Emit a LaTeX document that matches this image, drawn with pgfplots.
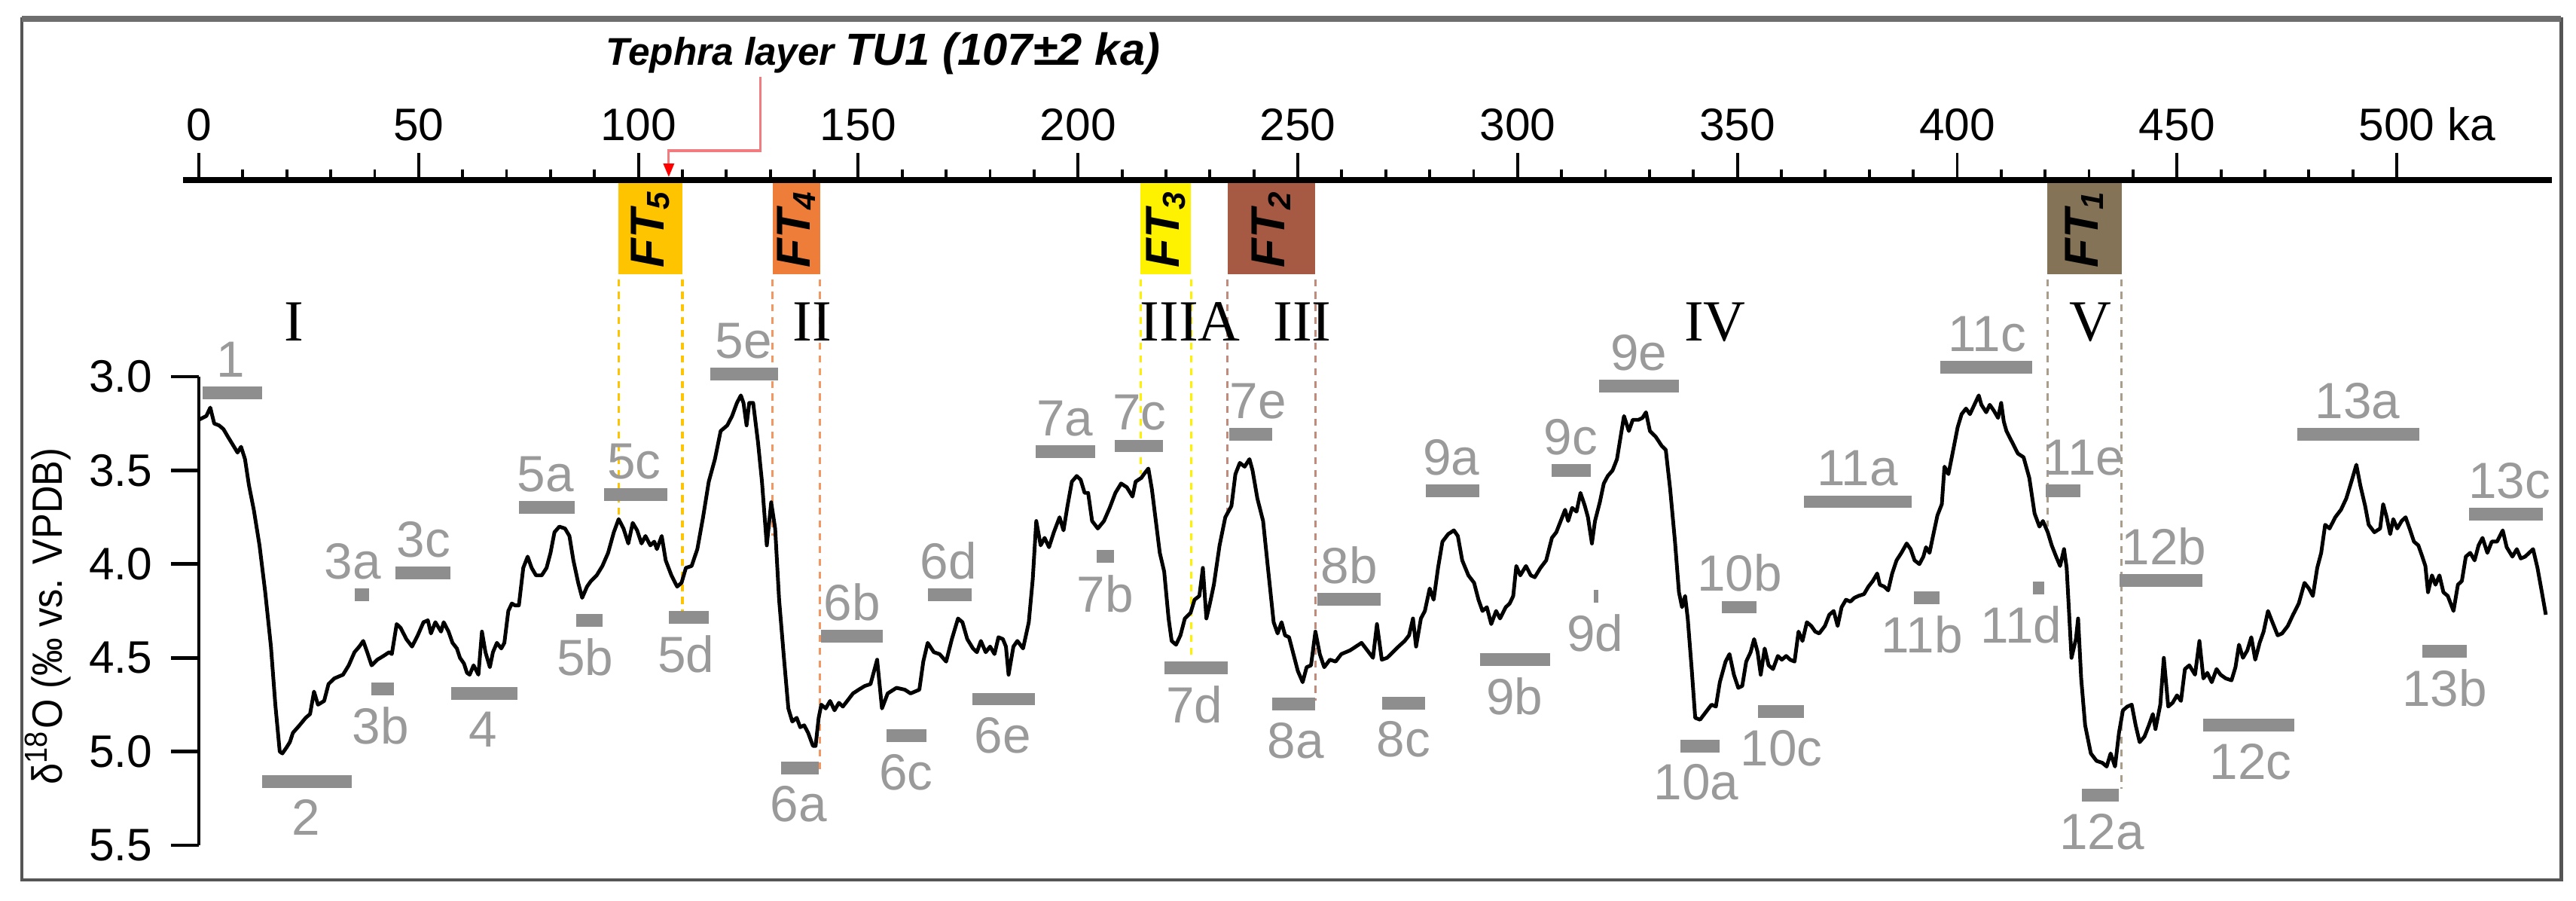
\documentclass[border=0pt]{standalone}
\usepackage{graphicx}
\usepackage{pgfplots}
\pgfplotsset{compat=1.18}
\usepackage{fontspec}
\setmainfont{Liberation Sans}
\newfontfamily\romanfont{Liberation Serif}
\usetikzlibrary{arrows.meta}
\definecolor{frame}{HTML}{555555}
\definecolor{misgray}{HTML}{8E8E8E}
\definecolor{mistext}{HTML}{9A9A9A}
\definecolor{ftfive}{HTML}{FFC400}
\definecolor{ftfour}{HTML}{EF7D3A}
\definecolor{ftthree}{HTML}{FFF200}
\definecolor{fttwo}{HTML}{A65A43}
\definecolor{ftone}{HTML}{857358}
\definecolor{tephra}{HTML}{F07C80}

\tikzset{
  misup/.style={anchor=south, inner sep=0pt, yshift=0.095cm, text=mistext, font=\fontsize{9.6}{10}\selectfont},
  misdown/.style={anchor=north, inner sep=0pt, yshift=-0.115cm, text=mistext, font=\fontsize{9.6}{10}\selectfont},
  roman/.style={anchor=base, inner sep=0pt, font=\romanfont\fontsize{11}{12}\selectfont},
  ftlab/.style={inner sep=0pt, font=\bfseries\itshape\fontsize{9}{10}\selectfont},
  ftdash/.style={dash pattern=on 1.3pt off 1.1pt, line width=0.45pt},
}
\newcommand{\ft}[1]{\rotatebox{90}{FT\textsubscript{#1}}}

\begin{document}
\begin{tikzpicture}
\path (-1.32,-0.365) rectangle (15.78,5.61);

% age scale on top
\begin{axis}[
  at={(-0.105cm,4.415cm)}, anchor=north west,
  width=15.725cm, height=0.5cm, scale only axis,
  xmin=-3.6, xmax=535.3, ymin=0, ymax=1,
  axis x line=top, axis y line=none,
  axis line style={-, line width=1.0pt},
  tick align=outside,
  xtick={0,50,...,500},
  xticklabels={0,50,100,150,200,250,300,350,400,450,500\rlap{ ka}},
  minor x tick num=4,
  major tick length=0.18cm, minor tick length=0.07cm,
  every tick/.style={black, line width=0.55pt},
  xticklabel style={font=\fontsize{8.6}{10}\selectfont, yshift=-0.045cm},
]
\end{axis}

% isotope record
\begin{axis}[
  at={(0,0)}, anchor=south west,
  width=15.62cm, height=3.11cm, scale only axis,
  xmin=0, xmax=535.3, ymin=3, ymax=5.5, y dir=reverse,
  clip=false,
  axis x line=none, axis y line=left,
  axis line style={-, line width=0.7pt},
  ytick={3,3.5,4,4.5,5,5.5},
  yticklabels={3.0,3.5,4.0,4.5,5.0,5.5},
  tick align=outside, major tick length=0.185cm,
  every tick/.style={black, line width=0.7pt},
  yticklabel style={font=\fontsize{8.6}{10}\selectfont},
  unbounded coords=jump,
]
% fluvial terrace boxes
\addplot[fill=ftfive, draw=none] coordinates {(95.5,1.967) (110.0,1.967) (110.0,2.452) (95.5,2.452)};
\addplot[fill=ftfour, draw=none] coordinates {(130.5,1.967) (141.3,1.967) (141.3,2.452) (130.5,2.452)};
\addplot[fill=ftthree, draw=none] coordinates {(214.2,1.967) (225.7,1.967) (225.7,2.452) (214.2,2.452)};
\addplot[fill=fttwo, draw=none] coordinates {(234.0,1.967) (254.0,1.967) (254.0,2.452) (234.0,2.452)};
\addplot[fill=ftone, draw=none] coordinates {(420.5,1.967) (437.4,1.967) (437.4,2.452) (420.5,2.452)};
\node[ftlab] at (axis cs:102.75,2.21) {\ft{5}};
\node[ftlab] at (axis cs:135.9,2.21) {\ft{4}};
\node[ftlab] at (axis cs:219.95,2.21) {\ft{3}};
\node[ftlab] at (axis cs:244.0,2.21) {\ft{2}};
\node[ftlab] at (axis cs:428.95,2.21) {\ft{1}};

% dashed boundaries
\addplot[ftdash, ftfive] coordinates {(95.5,2.48) (95.5,3.76)};
\addplot[ftdash, ftfive] coordinates {(110.0,2.48) (110.0,4.25)};
\addplot[ftdash, ftfour!80] coordinates {(130.5,2.48) (130.5,3.85)};
\addplot[ftdash, ftfour!80] coordinates {(141.3,2.48) (141.3,5.12)};
\addplot[ftdash, ftthree] coordinates {(214.2,2.48) (214.2,3.52)};
\addplot[ftdash, ftthree] coordinates {(225.7,2.48) (225.7,4.50)};
\addplot[ftdash, fttwo!70] coordinates {(234.0,2.48) (234.0,3.72)};
\addplot[ftdash, fttwo!70] coordinates {(254.0,2.48) (254.0,4.73)};
\addplot[ftdash, ftone!70] coordinates {(420.5,2.48) (420.5,3.80)};
\addplot[ftdash, ftone!70] coordinates {(437.4,2.48) (437.4,5.20)};

% tephra marker
\node[anchor=base west, inner sep=0pt, font=\bfseries\itshape] at (axis cs:92.4,1.34)
  {\fontsize{7.3}{8}\selectfont Tephra layer \fontsize{8.5}{9}\selectfont TU1 (107±2 ka)};
\draw[tephra, line width=0.45pt, -{Triangle[length=0.09cm,width=0.07cm,red]}]
  (axis cs:127.8,1.40) |- (axis cs:106.9,1.794) -- (axis cs:106.9,1.935);

% roman numerals
\node[roman] at (axis cs:21.6,2.81) {I};
\node[roman] at (axis cs:139.6,2.81) {II};
\node[roman] at (axis cs:225.5,2.81) {IIIA};
\node[roman] at (axis cs:251.0,2.81) {III};
\node[roman] at (axis cs:344.9,2.81) {IV};
\node[roman] at (axis cs:430.3,2.81) {V};

% marine isotope (sub)stages
\addplot[misgray, line width=2.4pt] coordinates {
(0.9,3.086) (14.4,3.086) (nan,nan)
(14.4,5.16) (34.7,5.16) (nan,nan)
(35.4,4.163) (38.7,4.163) (nan,nan)
(39.3,4.665) (44.3,4.665) (nan,nan)
(44.7,4.047) (57.2,4.047) (nan,nan)
(57.4,4.69) (72.5,4.69) (nan,nan)
(72.8,3.698) (85.5,3.698) (nan,nan)
(85.9,4.30) (91.9,4.30) (nan,nan)
(92.2,3.629) (106.5,3.629) (nan,nan)
(106.9,4.283) (116.0,4.283) (nan,nan)
(116.3,2.987) (131.8,2.987) (nan,nan)
(132.4,5.087) (141.0,5.087) (nan,nan)
(141.6,4.383) (155.6,4.383) (nan,nan)
(156.4,4.916) (165.5,4.916) (nan,nan)
(165.9,4.163) (175.8,4.163) (nan,nan)
(176.0,4.72) (190.2,4.72) (nan,nan)
(190.4,3.40) (203.9,3.40) (nan,nan)
(204.2,3.96) (208.2,3.96) (nan,nan)
(208.4,3.37) (219.3,3.37) (nan,nan)
(219.7,4.554) (234.1,4.554) (nan,nan)
(234.4,3.307) (244.2,3.307) (nan,nan)
(244.2,4.748) (254.0,4.748) (nan,nan)
(254.4,4.189) (268.9,4.189) (nan,nan)
(269.1,4.742) (279.0,4.742) (nan,nan)
(279.2,3.608) (291.2,3.608) (nan,nan)
(291.4,4.508) (307.4,4.508) (nan,nan)
(307.8,3.50) (316.7,3.50) (nan,nan)
(317.3,4.17) (318.3,4.17) (nan,nan)
(318.6,3.05) (336.7,3.05) (nan,nan)
(337.0,4.97) (346.0,4.97) (nan,nan)
(346.4,4.23) (354.3,4.23) (nan,nan)
(354.7,4.788) (365.2,4.788) (nan,nan)
(365.2,3.667) (389.7,3.667) (nan,nan)
(390.1,4.178) (395.9,4.178) (nan,nan)
(396.1,2.95) (417.0,2.95) (nan,nan)
(417.2,4.126) (419.8,4.126) (nan,nan)
(420.1,3.61) (428.1,3.61) (nan,nan)
(428.4,5.233) (436.8,5.233) (nan,nan)
(437.0,4.088) (455.7,4.088) (nan,nan)
(455.9,4.86) (476.6,4.86) (nan,nan)
(477.3,3.307) (505.2,3.307) (nan,nan)
(505.8,4.465) (516.0,4.465) (nan,nan)
(516.4,3.733) (533.3,3.733)
};
\node[misup] at (axis cs:7.2,3.086) {1};
\node[misdown] at (axis cs:24.3,5.16) {2};
\node[misup] at (axis cs:35.0,4.163) {3a};
\node[misdown] at (axis cs:41.3,4.665) {3b};
\node[misup] at (axis cs:51.1,4.047) {3c};
\node[misdown] at (axis cs:64.6,4.69) {4};
\node[misup] at (axis cs:78.9,3.698) {5a};
\node[misdown] at (axis cs:87.9,4.30) {5b};
\node[misup] at (axis cs:99.0,3.629) {5c};
\node[misdown] at (axis cs:110.8,4.283) {5d};
\node[misup] at (axis cs:123.9,2.987) {5e};
\node[misdown] at (axis cs:136.4,5.087) {6a};
\node[misup] at (axis cs:148.6,4.383) {6b};
\node[misdown] at (axis cs:160.9,4.916) {6c};
\node[misup] at (axis cs:170.5,4.163) {6d};
\node[misdown] at (axis cs:182.9,4.72) {6e};
\node[misup] at (axis cs:197.0,3.40) {7a};
\node[misdown] at (axis cs:206.2,3.96) {7b};
\node[misup] at (axis cs:214.0,3.37) {7c};
\node[misdown] at (axis cs:226.5,4.554) {7d};
\node[misup] at (axis cs:241.0,3.307) {7e};
\node[misdown] at (axis cs:249.5,4.748) {8a};
\node[misup] at (axis cs:261.7,4.189) {8b};
\node[misdown] at (axis cs:274.0,4.742) {8c};
\node[misup] at (axis cs:284.9,3.608) {9a};
\node[misdown] at (axis cs:299.3,4.508) {9b};
\node[misup] at (axis cs:312.1,3.50) {9c};
\node[misdown] at (axis cs:317.6,4.17) {9d};
\node[misup] at (axis cs:327.6,3.05) {9e};
\node[misdown] at (axis cs:340.6,4.97) {10a};
\node[misup] at (axis cs:350.5,4.23) {10b};
\node[misdown] at (axis cs:360.0,4.788) {10c};
\node[misup] at (axis cs:377.3,3.667) {11a};
\node[misdown] at (axis cs:392.0,4.178) {11b};
\node[misup] at (axis cs:406.8,2.95) {11c};
\node[misdown] at (axis cs:414.6,4.126) {11d};
\node[misup] at (axis cs:428.8,3.61) {11e};
\node[misdown] at (axis cs:432.9,5.233) {12a};
\node[misup] at (axis cs:447.0,4.088) {12b};
\node[misdown] at (axis cs:466.8,4.86) {12c};
\node[misup] at (axis cs:491.1,3.307) {13a};
\node[misdown] at (axis cs:510.9,4.465) {13b};
\node[misup] at (axis cs:525.6,3.733) {13c};

% benthic d18O curve
\addplot[black, line width=0.7pt, line join=round] table {
x y
0.0 3.23
1.7 3.21
2.6 3.165
3.5 3.25
4.6 3.26
5.6 3.28
6.6 3.32
7.9 3.37
8.8 3.405
9.6 3.374
10.5 3.44
11.4 3.58
12.5 3.71
13.8 3.90
15.1 4.15
16.4 4.44
17.4 4.75
18.4 5.00
19.0 5.01
19.9 4.98
20.7 4.95
21.4 4.90
22.9 4.86
24.3 4.82
25.3 4.80
26.2 4.68
27.1 4.75
28.5 4.73
29.5 4.64
30.8 4.61
32.8 4.59
34.1 4.54
35.4 4.47
36.5 4.44
37.4 4.41
38.3 4.47
39.3 4.54
40.6 4.51
42.0 4.49
43.3 4.47
43.9 4.48
45.0 4.32
45.9 4.34
47.2 4.40
48.5 4.44
49.8 4.38
51.1 4.31
52.1 4.30
52.8 4.37
53.8 4.31
55.1 4.36
55.7 4.31
56.8 4.36
57.7 4.42
58.7 4.45
59.4 4.50
60.3 4.53
61.0 4.58
61.6 4.59
62.5 4.54
63.6 4.59
64.4 4.36
65.2 4.47
66.2 4.55
66.9 4.47
67.8 4.42
68.8 4.45
69.5 4.42
70.4 4.25
71.2 4.21
71.9 4.22
72.8 4.22
73.8 4.02
74.8 3.96
75.7 4.02
76.7 4.06
78.0 4.06
79.1 4.02
80.0 3.94
80.9 3.83
82.0 3.80
83.3 3.81
84.3 3.85
85.2 3.98
86.3 4.10
87.2 4.18
88.3 4.12
89.2 4.09
90.5 4.06
91.8 4.01
93.1 3.94
94.4 3.83
95.5 3.76
96.6 3.81
97.7 3.89
98.7 3.78
99.7 3.82
100.7 3.89
101.6 3.85
102.7 3.90
103.6 3.88
104.2 3.92
105.3 3.85
106.2 3.98
107.5 4.06
108.8 4.12
109.8 4.10
110.8 4.02
112.1 4.01
113.4 3.92
114.7 3.75
116.0 3.56
117.4 3.44
118.7 3.29
120.2 3.26
121.3 3.21
122.4 3.14
123.3 3.10
123.9 3.14
124.6 3.26
125.2 3.14
126.1 3.14
127.2 3.35
128.1 3.56
129.2 3.90
130.2 3.67
131.1 3.81
132.0 4.19
133.1 4.50
134.1 4.77
135.0 4.84
136.0 4.82
136.8 4.87
137.7 4.86
138.6 4.90
139.7 4.97
140.3 4.97
141.0 4.82
141.6 4.75
142.6 4.77
143.6 4.73
144.6 4.78
145.6 4.74
146.5 4.76
147.5 4.73
148.8 4.69
150.1 4.67
151.5 4.65
152.8 4.64
154.3 4.51
155.4 4.77
156.7 4.69
158.7 4.66
160.6 4.67
161.9 4.69
163.9 4.67
164.8 4.52
165.8 4.42
167.2 4.47
168.5 4.48
170.0 4.52
171.3 4.40
172.7 4.29
173.7 4.31
174.8 4.40
176.1 4.45
177.0 4.47
177.9 4.41
179.0 4.47
180.0 4.44
181.0 4.48
181.9 4.39
182.9 4.40
183.6 4.44
184.2 4.59
185.3 4.44
186.2 4.41
187.5 4.45
188.8 4.31
189.7 4.08
190.5 3.77
191.5 3.90
192.4 3.86
193.4 3.91
194.5 3.83
195.8 3.75
196.7 3.82
197.6 3.69
198.6 3.56
199.7 3.53
200.6 3.55
201.5 3.62
202.3 3.62
203.2 3.77
204.5 3.81
205.9 3.77
207.2 3.70
208.5 3.62
209.8 3.57
211.1 3.59
212.4 3.64
213.1 3.56
214.4 3.54
215.0 3.52
216.0 3.49
216.8 3.60
217.7 3.77
218.6 3.94
219.6 4.04
220.6 4.29
221.3 4.41
222.3 4.43
223.3 4.38
224.3 4.29
225.6 4.26
226.5 4.19
227.6 4.17
228.4 4.02
229.2 4.29
230.0 4.21
230.9 4.11
232.2 3.90
233.5 3.75
234.9 3.69
235.8 3.52
236.8 3.46
237.9 3.48
239.0 3.44
239.7 3.50
240.8 3.65
242.1 3.77
243.2 4.02
244.5 4.31
245.4 4.37
246.3 4.31
247.1 4.38
248.0 4.39
249.0 4.48
250.0 4.57
251.1 4.63
252.0 4.55
253.0 4.54
254.0 4.36
255.0 4.48
256.0 4.55
257.3 4.51
258.6 4.52
259.9 4.48
261.9 4.46
263.2 4.44
264.5 4.42
265.8 4.46
267.1 4.50
268.0 4.32
269.1 4.51
270.3 4.50
271.6 4.47
272.9 4.44
274.3 4.41
275.3 4.38
276.2 4.29
276.9 4.44
278.0 4.29
278.9 4.25
280.0 4.13
280.9 4.19
281.9 4.02
282.9 3.88
284.2 3.84
285.5 3.82
286.4 3.85
287.4 3.98
288.8 4.06
290.1 4.10
291.1 4.19
292.0 4.25
293.0 4.23
294.0 4.32
295.1 4.25
296.0 4.29
297.3 4.23
298.2 4.21
299.0 4.17
299.7 4.01
300.6 4.06
301.9 4.01
303.0 4.06
303.9 4.07
305.2 4.02
306.5 3.98
307.8 3.86
308.8 3.83
309.8 3.77
310.8 3.71
311.5 3.77
312.4 3.70
313.4 3.72
314.3 3.62
315.3 3.69
316.0 3.75
316.9 3.89
317.6 3.77
318.7 3.67
319.6 3.57
320.5 3.53
321.6 3.50
322.6 3.44
323.5 3.31
324.2 3.21
325.3 3.29
326.2 3.23
327.5 3.23
328.4 3.22
329.2 3.19
330.1 3.29
331.4 3.32
332.8 3.37
333.7 3.39
334.7 3.60
335.8 3.88
336.7 4.15
337.4 4.23
338.1 4.17
338.7 4.29
339.6 4.56
340.4 4.82
341.5 4.83
342.8 4.79
344.1 4.75
345.1 4.76
346.0 4.63
347.3 4.52
348.2 4.48
349.2 4.59
350.2 4.66
351.1 4.65
352.0 4.52
353.0 4.47
353.8 4.40
354.6 4.47
355.3 4.59
356.2 4.45
357.1 4.54
358.1 4.56
359.2 4.49
360.1 4.51
361.1 4.49
362.0 4.51
363.0 4.52
363.9 4.36
364.8 4.41
365.8 4.31
366.8 4.33
367.7 4.36
368.6 4.37
369.9 4.33
370.9 4.27
371.9 4.25
372.8 4.33
373.7 4.23
374.7 4.19
375.7 4.20
376.6 4.18
377.5 4.17
378.8 4.16
379.8 4.12
380.8 4.09
381.8 4.05
382.4 4.11
383.4 4.12
384.3 4.14
385.2 4.05
386.2 3.98
387.3 3.94
388.5 3.89
389.4 3.92
390.3 3.98
391.4 4.00
392.3 3.96
392.9 3.91
393.7 3.94
394.5 3.85
395.5 3.74
396.5 3.68
397.1 3.48
398.0 3.52
399.1 3.39
400.1 3.27
401.0 3.20
402.0 3.17
402.9 3.20
403.9 3.15
404.9 3.10
405.5 3.15
406.6 3.19
407.4 3.15
408.3 3.18
409.3 3.22
410.0 3.14
410.6 3.24
411.2 3.29
412.5 3.35
413.8 3.41
415.1 3.43
416.4 3.54
417.6 3.73
418.7 3.80
419.5 3.77
420.6 3.83
421.5 3.90
422.5 3.96
423.4 4.01
424.3 3.92
424.9 4.02
426.0 4.50
427.0 4.40
427.5 4.29
428.2 4.61
429.1 4.86
430.4 5.01
431.7 5.05
433.0 5.06
434.0 5.08
434.9 5.01
435.9 5.08
436.8 4.90
437.7 4.78
438.7 4.76
439.7 4.75
440.6 4.86
441.5 4.95
442.6 4.92
443.6 4.86
444.5 4.80
445.1 4.88
446.2 4.75
447.0 4.50
448.0 4.76
449.0 4.74
450.0 4.70
450.9 4.73
451.8 4.56
452.8 4.54
454.1 4.59
455.1 4.41
456.0 4.61
456.9 4.58
457.9 4.63
459.0 4.56
459.9 4.59
461.1 4.61
462.4 4.62
463.3 4.55
464.1 4.43
465.0 4.50
466.0 4.46
466.9 4.39
467.8 4.51
468.8 4.42
469.7 4.36
470.7 4.25
471.7 4.31
472.9 4.38
473.9 4.37
475.2 4.33
476.4 4.27
477.7 4.21
479.0 4.10
480.0 4.13
480.9 4.17
481.9 4.02
482.8 3.94
483.7 3.79
484.7 3.81
486.0 3.75
487.3 3.71
488.5 3.65
489.8 3.55
490.8 3.47
491.7 3.58
492.8 3.69
493.6 3.79
494.9 3.83
496.2 3.81
496.9 3.68
497.7 3.75
498.5 3.84
499.2 3.76
500.1 3.81
501.1 3.77
502.0 3.75
502.9 3.81
503.9 3.88
504.9 3.90
505.8 3.96
506.5 4.01
507.1 4.15
508.0 4.06
508.8 4.11
509.7 4.06
510.6 4.15
511.6 4.17
512.9 4.25
513.9 4.11
514.8 4.09
515.7 3.96
516.7 3.94
517.7 3.98
518.6 3.90
519.5 3.86
520.6 3.94
521.6 3.88
522.8 3.88
524.1 3.82
525.0 3.91
526.3 3.96
527.3 3.92
528.2 3.97
529.2 3.96
530.1 3.94
531.0 3.92
532.0 4.02
533.0 4.15
533.9 4.27
};
\end{axis}

\node[inner sep=0pt] at (-1.0,1.52) {\rotatebox{90}{\scalebox{0.9}[1]{\fontsize{8}{9}\selectfont δ\textsuperscript{18}O (‰ vs. VPDB)}}};
\draw[frame, line width=0.7pt] (-1.175,-0.23) rectangle (15.68,5.485);
\draw[frame!85, line width=1.1pt] (-1.175,5.485) -- (15.68,5.485);
\end{tikzpicture}
\end{document}
